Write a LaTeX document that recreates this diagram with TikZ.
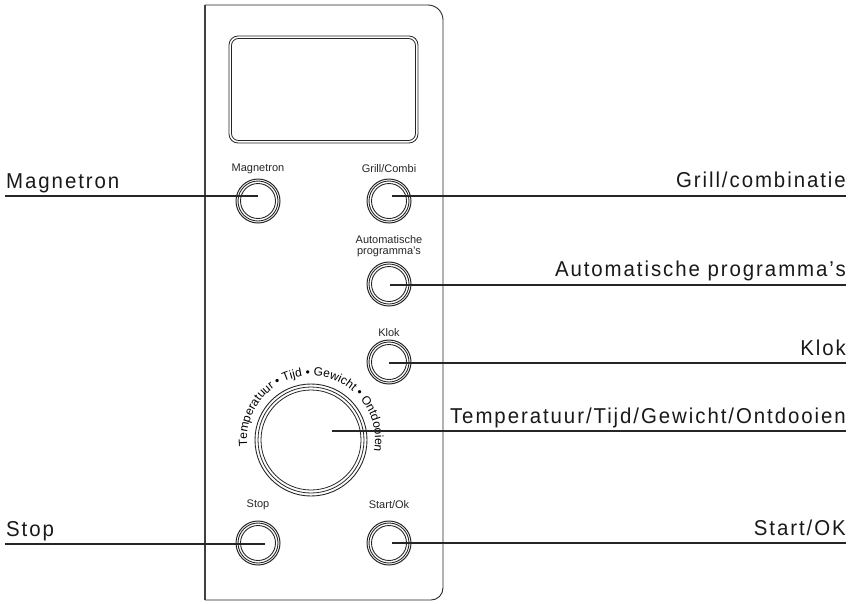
\documentclass[tikz,border=0pt]{standalone}
\usepackage{fontspec}
\setmainfont{Liberation Sans}
\newfontfamily\lblfont{Liberation Sans}[FakeStretch=0.95,LetterSpace=9]
\usetikzlibrary{decorations.text,calc}
\begin{document}
\begin{tikzpicture}[x=1pt,y=-1pt,
  panel/.style={draw=black!85, line width=0.9pt},
  leader/.style={draw=black!85, line width=1.1pt},
  btn/.style={circle, draw=black!85, line width=1pt, minimum size=44pt, inner sep=0pt},
  ring/.style={draw=black!85, line width=0.9pt},
  lbl/.style={font=\lblfont\fontsize{21.5}{21.5}\selectfont, text=black!90, inner sep=0pt},
  small/.style={font=\fontsize{11}{11}\selectfont, text=black!85, inner sep=0pt, align=center},
]
\useasboundingbox (0,0) rectangle (851,603);
% panel outline
\draw[panel] (205,5) -- (428,5) arc[start angle=90, end angle=0, radius=15pt]
  -- (443,588) arc[start angle=0, end angle=-90, radius=12pt] -- (205,600);
\draw[line width=2pt, black!75] (205,5) -- (205,600);
% display
\draw[panel, line width=0.8pt, rounded corners=9pt] (229,36) rectangle (418,143);
\draw[panel, line width=0.8pt, rounded corners=7pt] (231.5,38.5) rectangle (415.5,140.5);
% buttons
\node[btn] (mag) at (258,201) {};
\node[btn] (grill) at (389,201) {};
\node[btn] (auto) at (389,284) {};
\node[btn] (klok) at (389,362) {};
\node[btn] (stop) at (258,543) {};
\node[btn] (start) at (389,543) {};
\foreach \b in {mag,grill,auto,klok,stop,start}
  \draw[ring] (\b.center) circle[radius=20pt] circle[radius=17.5pt];
% dial
\node[circle, draw=black!85, line width=0.9pt, minimum size=112pt, inner sep=0pt] (dial) at (311,440) {};
\draw[ring, line width=0.8pt] (dial.center) circle[radius=53pt] circle[radius=50pt];
\path[decorate, decoration={text along path, text align=center,
  text={|\fontsize{12}{12}\selectfont|Temperatuur • Tijd • Gewicht • Ontdooien}}]
  (dial.center) ++(189:64pt) arc[start angle=189, end angle=-13, radius=64pt];
% button captions
\node[small] (cmag) at (258,169) {Magnetron};
\node[small] (cgrill) at (389,169) {Grill/Combi};
\node[small] (cauto) at (389,246) {Automatische\\programma's};
\node[small] (cklok) at (389,333) {Klok};
\node[small] (cstop) at (258,505) {Stop};
\node[small] (cstart) at (389,505) {Start/Ok};
% leader lines and labels
\coordinate (lMag) at (5,196);
\draw[leader] (lMag) -- (lMag -| mag.center);
\node[lbl, anchor=base west] (tMag) at (6,188) {Magnetron};
\coordinate (lGrill) at (846,196);
\draw[leader] (lGrill) -- ($(lGrill -| grill.center)+(3,0)$);
\node[lbl, anchor=base east] (tGrill) at (846,187) {Grill/combinatie};
\coordinate (lAuto) at (846,285);
\draw[leader] (lAuto) -- ($(lAuto -| auto.center)+(1,0)$);
\node[lbl, anchor=base east] (tAuto) at (846,276) {Automatische programma’s};
\coordinate (lKlok) at (846,363);
\draw[leader] (lKlok) -- (lKlok -| klok.center);
\node[lbl, anchor=base east] (tKlok) at (846,355) {Klok};
\coordinate (lDial) at (846,431);
\draw[leader] (lDial) -- ($(lDial -| dial.center)+(21,0)$);
\node[lbl, anchor=base east] (tDial) at (846,423) {Temperatuur/Tijd/Gewicht/Ontdooien};
\coordinate (lStop) at (5,544);
\draw[leader] (lStop) -- ($(lStop -| stop.center)+(7,0)$);
\node[lbl, anchor=base west] (tStop) at (6,536) {Stop};
\coordinate (lStart) at (846,543);
\draw[leader] (lStart) -- ($(lStart -| start.center)+(3,0)$);
\node[lbl, anchor=base east] (tStart) at (846,535) {Start/OK};
\end{tikzpicture}
\end{document}
